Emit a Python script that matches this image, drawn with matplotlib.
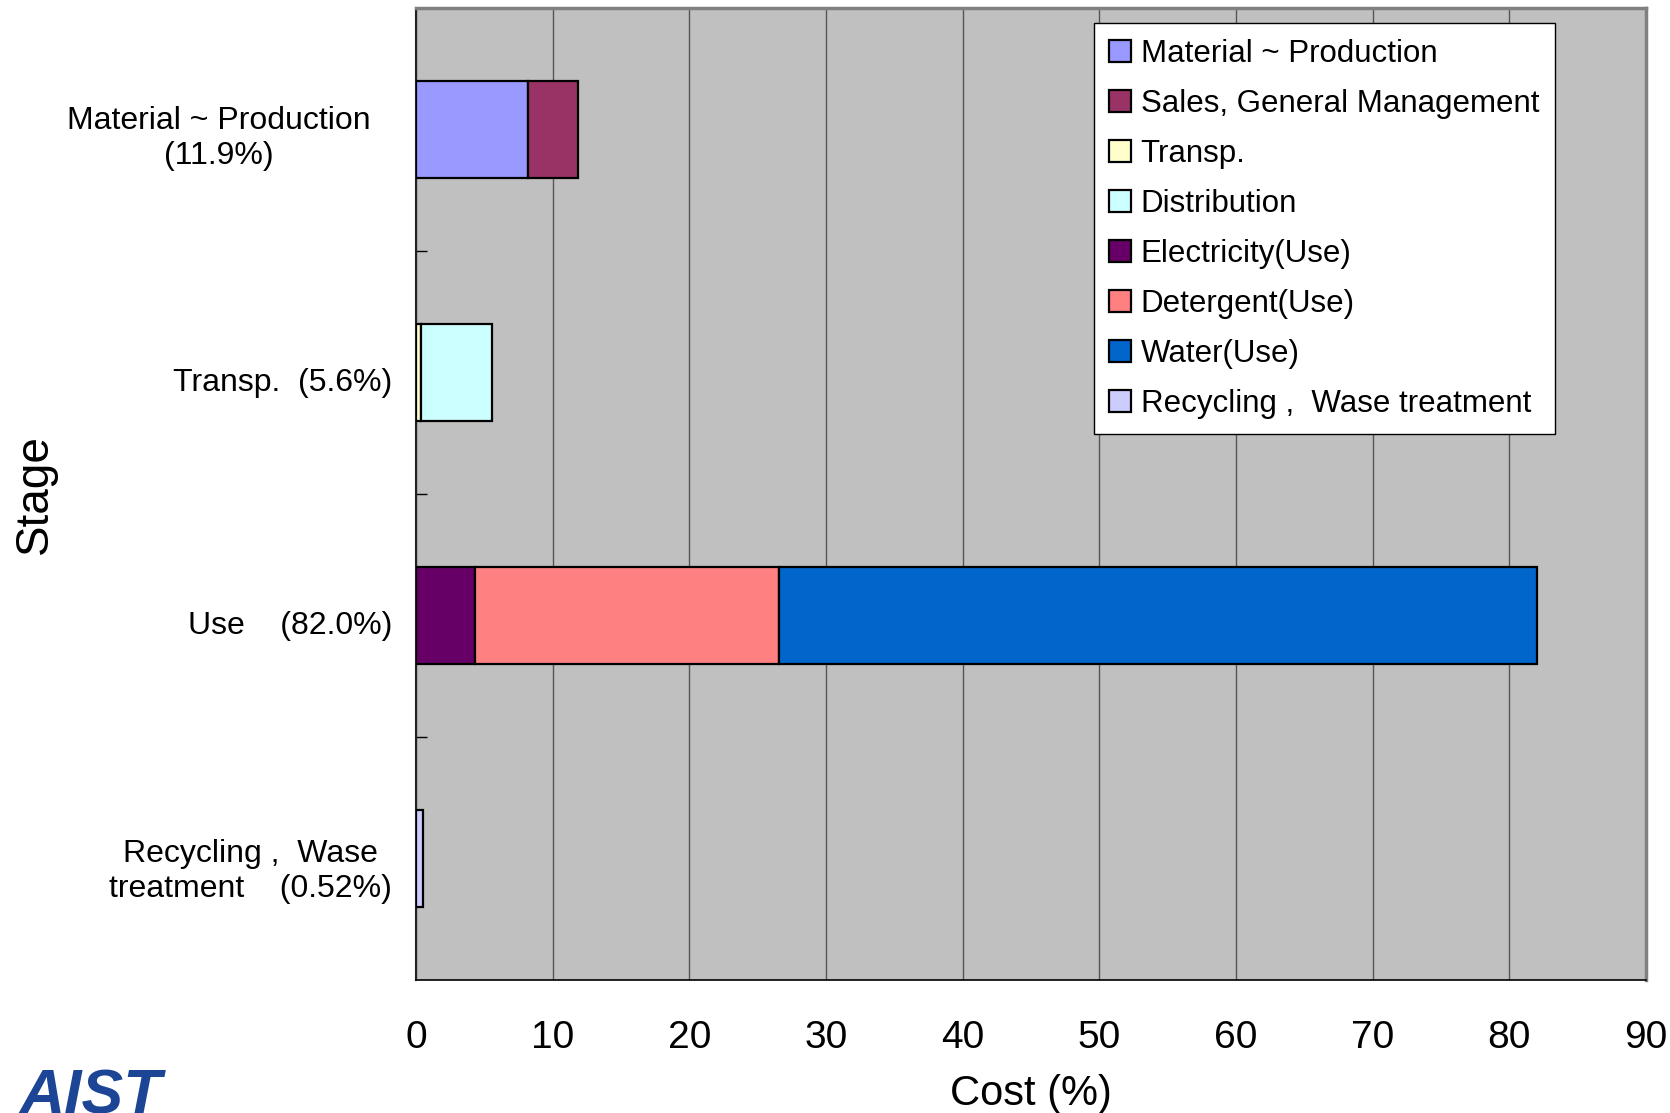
import matplotlib as mpl
mpl.use('Agg')
import matplotlib.pyplot as plt
import matplotlib.transforms as mtransforms
import numpy as np

plt.rcParams['font.family'] = ['Liberation Sans', 'DejaVu Sans']

# stages, top to bottom
stages = ['Material ~ Production\n(11.9%)',
          'Transp.  (5.6%)',
          'Use    (82.0%)',
          'Recycling ,  Wase\ntreatment    (0.52%)']

# cost breakdown (%) per component, one value per stage
components = ['Material ~ Production', 'Sales, General Management', 'Transp.',
              'Distribution', 'Electricity(Use)', 'Detergent(Use)', 'Water(Use)',
              'Recycling ,  Wase treatment']
material = [8.2, 0, 0, 0]
sales = [3.7, 0, 0, 0]
transp = [0, 0.35, 0, 0]
distribution = [0, 5.25, 0, 0]
electricity = [0, 0, 4.3, 0]
detergent = [0, 0, 22.3, 0]
water = [0, 0, 55.4, 0]
recycling = [0, 0, 0, 0.52]
colors = ['#9999FF', '#993366', '#FFFFCC', '#CCFFFF',
          '#660066', '#FF8080', '#0066CC', '#CCCCFF']

series = [material, sales, transp, distribution, electricity, detergent, water, recycling]

fig = plt.figure(figsize=(16.7, 11.13), dpi=100)
ax = fig.add_axes([0.249, 0.1195, 0.7366, 0.8733])
ax.set_facecolor('#C0C0C0')

y = np.arange(len(stages))
left = np.zeros(len(stages))
handles = []
for name, vals, col in zip(components, series, colors):
    vals = np.array(vals, dtype=float)
    m = vals > 0
    h = ax.barh(y[m], vals[m], left=left[m], height=0.4, color=col,
                edgecolor='black', linewidth=1.6, label=name, zorder=3)
    handles.append(h)
    left += vals

ax.set_xlim(0, 90)
ax.set_ylim(3.5, -0.5)
ax.set_xticks(np.arange(0, 91, 10))
ax.grid(axis='x', color='#555555', linewidth=1.0, zorder=1)
ax.set_axisbelow(True)

ax.tick_params(axis='x', length=0, pad=29, labelsize=28)
ax.set_yticks(y)
ax.set_yticklabels(stages, fontsize=23, ha='right', multialignment='center')
ax.tick_params(axis='y', which='major', length=0, pad=17)
ax.set_yticks([0.5, 1.5, 2.5], minor=True)
ax.tick_params(axis='y', which='minor', direction='in', length=8, width=1, color='black')

# nudge stage labels slightly down, first one a bit further left
for i, lab in enumerate(ax.get_yticklabels()):
    dx = -22 / 100 if i == 0 else 0
    dy = -3 / 100 if i == 0 else -7 / 100
    off = mtransforms.ScaledTranslation(dx, dy, fig.dpi_scale_trans)
    lab.set_transform(lab.get_transform() + off)

for side in ['top', 'right']:
    ax.spines[side].set_color('#808080')
    ax.spines[side].set_linewidth(2.5)
ax.spines['left'].set_color('#222222')
ax.spines['left'].set_linewidth(1.5)
ax.spines['bottom'].set_color('black')
ax.spines['bottom'].set_linewidth(1.2)

ax.set_xlabel('Cost (%)', fontsize=30, labelpad=13)
ax.set_ylabel('Stage', fontsize=33)
ax.yaxis.set_label_coords(-0.292, 0.5)

leg = ax.legend(handles=handles, loc='upper left', bbox_to_anchor=(0.551, 0.9846),
                fontsize=22.5, frameon=True, fancybox=False, framealpha=1,
                edgecolor='black', handlelength=0.7, handleheight=0.7,
                handletextpad=0.3, labelspacing=0.64, borderpad=0.5,
                borderaxespad=0)
leg.get_frame().set_linewidth(1.0)
leg.set_zorder(5)

fig.text(19 / 1670, 0.0413, 'AIST', fontsize=45, fontweight='bold', style='italic',
         color='#1C4595', va='top', ha='left')

fig.savefig('out.png', dpi=100)
plt.close()
